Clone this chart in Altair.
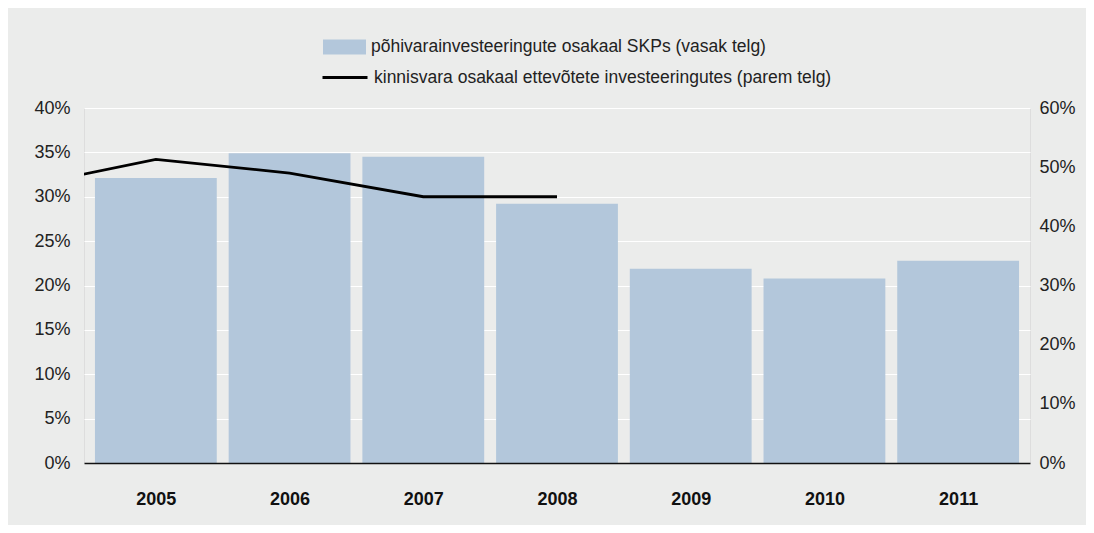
import altair as alt
import pandas as pd

years = [2005, 2006, 2007, 2008, 2009, 2010, 2011]
bar_values = [32.1, 34.9, 34.5, 29.2, 21.9, 20.8, 22.8]          # % of GDP (left axis)
line_years = [2004, 2005, 2006, 2007, 2008]
line_values = [46.7, 51.3, 49.0, 45.0, 45.0]                     # % (right axis)
left_ticks = [0, 0.05, 0.10, 0.15, 0.20, 0.25, 0.30, 0.35, 0.40]
right_ticks = [0, 0.1, 0.2, 0.3, 0.4, 0.5, 0.6]
bar_label = "põhivarainvesteeringute osakaal SKPs (vasak telg)"
line_label = "kinnisvara osakaal ettevõtete investeeringutes (parem telg)"

bars_df = pd.DataFrame({"year": years, "value": [v / 100 for v in bar_values], "series": bar_label})
line_df = pd.DataFrame({"year": line_years, "value": [v / 100 for v in line_values], "series": line_label})

FONT = "Liberation Sans"
xscale = alt.Scale(domain=[2004.5, 2011.5], nice=False, zero=False)
xaxis = alt.Axis(values=years, format="d", ticks=False, grid=False,
                 domain=True, domainColor="#111111", domainWidth=1.5,
                 labelFontWeight="bold", labelFontSize=18, labelColor="#111111",
                 labelPadding=27, zindex=1)

bars = alt.Chart(bars_df).transform_calculate(
    x0="datum.year - 0.4555", x1="datum.year + 0.4555"
).mark_bar(orient="vertical").encode(
    x=alt.X("x0:Q", scale=xscale, title=None, axis=xaxis),
    x2="x1:Q",
    y=alt.Y("value:Q", title=None,
            scale=alt.Scale(domain=[0, 0.4], nice=False, zero=True),
            axis=alt.Axis(orient="left", values=left_ticks, format=".0%", ticks=False,
                          domain=False, grid=True, gridColor="#ffffff", gridWidth=1.2,
                          labelFontSize=18, labelColor="#222222", labelPadding=14)),
    y2=alt.datum(0),
    color=alt.Color("series:N", scale=alt.Scale(range=["#b3c7db"]),
                    legend=alt.Legend(title=None, orient="none", legendX=239, legendY=-82.5,
                                      symbolType="M-1,-0.35L1,-0.35L1,0.35L-1,0.35Z",
                                      symbolSize=1849, symbolOpacity=1, symbolStrokeWidth=0,
                                      labelFontSize=17.5, labelColor="#222222", labelOffset=5,
                                      padding=0, labelLimit=800)),
)

line = alt.Chart(line_df).mark_line(clip=True, strokeWidth=2.8).encode(
    x=alt.X("year:Q", scale=xscale, title=None, axis=xaxis),
    y=alt.Y("value:Q", title=None,
            scale=alt.Scale(domain=[0, 0.6], nice=False, zero=True),
            axis=alt.Axis(orient="right", values=right_ticks, format=".0%", ticks=False,
                          domain=False, grid=False, labelFontSize=18, labelColor="#222222",
                          labelPadding=9)),
    stroke=alt.Stroke("series:N", scale=alt.Scale(range=["#000000"]),
                      legend=alt.Legend(title=None, orient="none", legendX=237, legendY=-54.5,
                                        symbolType="stroke", symbolSize=2025,
                                        symbolStrokeWidth=3, labelFontSize=17.5,
                                        labelColor="#222222", labelOffset=5, padding=0,
                                        labelLimit=800)),
)

chart = alt.layer(bars, line).resolve_scale(
    y="independent", color="independent", stroke="independent"
).properties(
    width=946, height=355,
    padding={"left": 76, "top": 100, "right": 56, "bottom": 62},
    autosize=alt.AutoSizeParams(type="none"),
    background="#ebeceb",
).configure_view(stroke=None, strokeWidth=0).configure_axisX(grid=False).configure_axisY(
    domain=False
).configure(font=FONT)

chart.save("out.html", embed_options={"renderer": "svg", "actions": False})
